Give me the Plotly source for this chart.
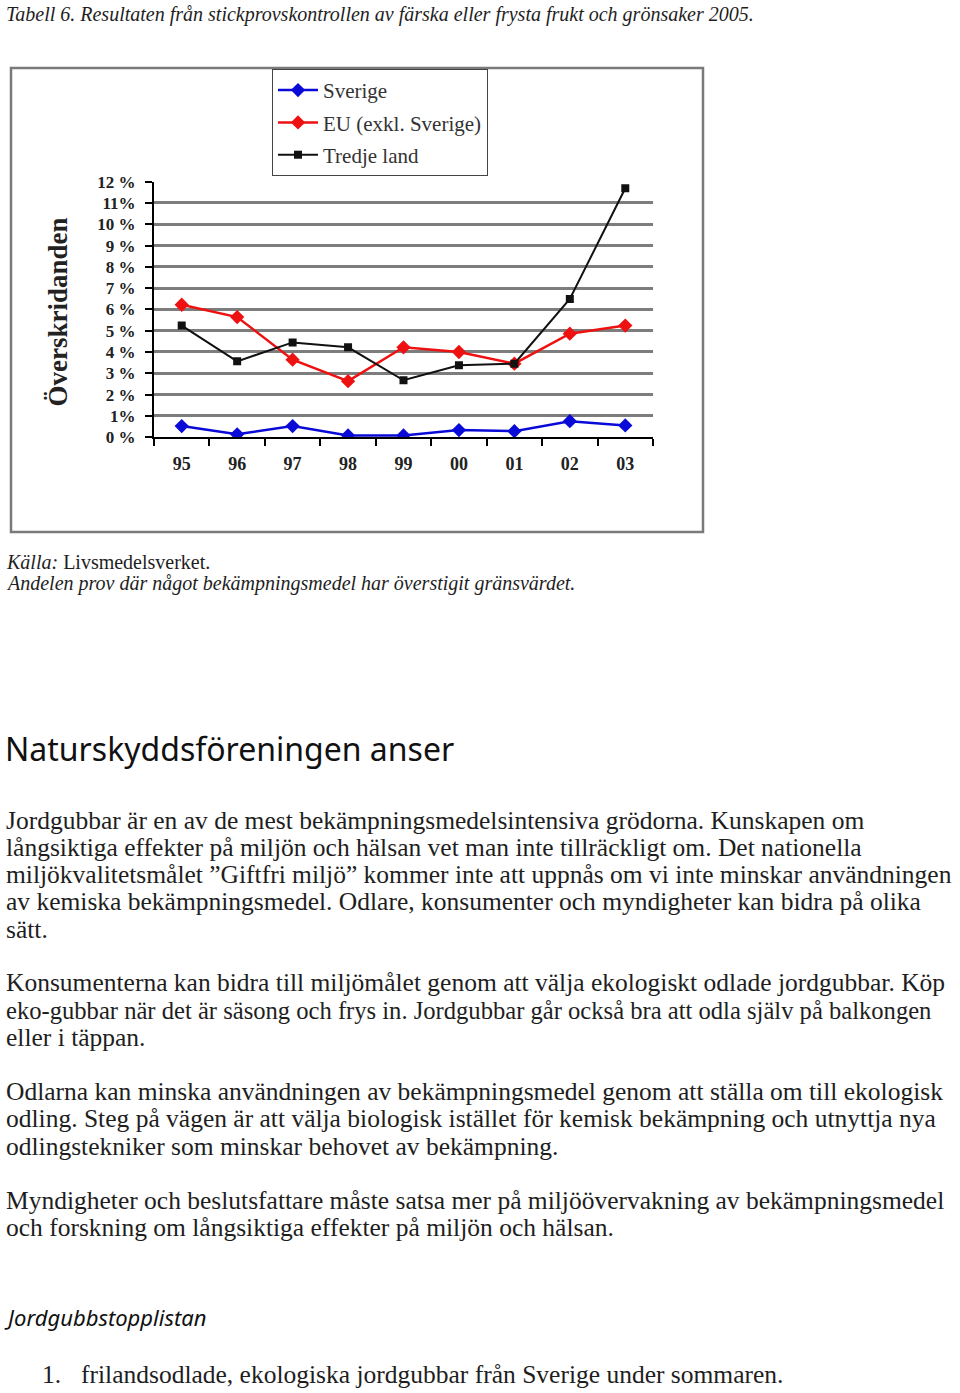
import plotly.graph_objects as go

W, H = 960, 1393

years = ["95", "96", "97", "98", "99", "00", "01", "02", "03"]
sverige = [0.52, 0.13, 0.52, 0.08, 0.08, 0.33, 0.28, 0.75, 0.55]
eu = [6.22, 5.64, 3.64, 2.63, 4.22, 4.00, 3.45, 4.86, 5.24]
tredje = [5.24, 3.56, 4.45, 4.22, 2.67, 3.38, 3.45, 6.49, 11.69]
series_names = ["Sverige", "EU (exkl. Sverige)", "Tredje land"]

ytick_vals = list(range(0, 13))
ytick_text = ["0 %", "1%", "2 %", "3 %", "4 %", "5 %", "6 %", "7 %", "8 %", "9 %", "10 %", "11%", "12 %"]

title_text = "Tabell 6. Resultaten från stickprovskontrollen av färska eller frysta frukt och grönsaker 2005."
source_text = "<i>Källa:</i> Livsmedelsverket."
note_text = "<i>Andelen prov där något bekämpningsmedel har överstigit gränsvärdet.</i>"
heading_text = "Naturskyddsföreningen anser"
paragraphs = [
    ["Jordgubbar är en av de mest bekämpningsmedelsintensiva grödorna. Kunskapen om",
     "långsiktiga effekter på miljön och hälsan vet man inte tillräckligt om. Det nationella",
     "miljökvalitetsmålet ”Giftfri miljö” kommer inte att uppnås om vi inte minskar användningen",
     "av kemiska bekämpningsmedel. Odlare, konsumenter och myndigheter kan bidra på olika",
     "sätt."],
    ["Konsumenterna kan bidra till miljömålet genom att välja ekologiskt odlade jordgubbar. Köp",
     "eko-gubbar när det är säsong och frys in. Jordgubbar går också bra att odla själv på balkongen",
     "eller i täppan."],
    ["Odlarna kan minska användningen av bekämpningsmedel genom att ställa om till ekologisk",
     "odling. Steg på vägen är att välja biologisk istället för kemisk bekämpning och utnyttja nya",
     "odlingstekniker som minskar behovet av bekämpning."],
    ["Myndigheter och beslutsfattare måste satsa mer på miljöövervakning av bekämpningsmedel",
     "och forskning om långsiktiga effekter på miljön och hälsan."],
]
paragraph_tops = [821, 984, 1093, 1202]
line_step = 27.3
list_title = "Jordgubbstopplistan"
list_items = ["frilandsodlade, ekologiska jordgubbar från Sverige under sommaren."]


def px(x):
    return x / W


def py(y):
    # target screen y -> paper fraction (compensates the observed page offset/scale)
    yf = (y - 7.9) / 0.9886
    return 1 - yf / H


SERIF = "Liberation Serif"
SANS = "Noto Sans"
TXT = "#1e1e1e"

fig = go.Figure()
fig.add_trace(go.Scatter(x=years, y=sverige, name=series_names[0], mode="lines+markers",
                         line=dict(color="#0a0ad8", width=2.5),
                         marker=dict(symbol="diamond", size=11, color="#0a0ad8"),
                         legendgroup="a"))
fig.add_trace(go.Scatter(x=years, y=eu, name=series_names[1], mode="lines+markers",
                         line=dict(color="#ee1111", width=2.5),
                         marker=dict(symbol="diamond", size=11, color="#ee1111"),
                         legendgroup="b"))
fig.add_trace(go.Scatter(x=years, y=tredje, name=series_names[2], mode="lines+markers",
                         line=dict(color="#111111", width=2),
                         marker=dict(symbol="square", size=8, color="#111111"),
                         legendgroup="c"))

fig.update_layout(
    width=W, height=H,
    margin=dict(l=0, r=0, t=0, b=0),
    paper_bgcolor="white", plot_bgcolor="white",
    showlegend=True,
    legend=dict(x=px(272), y=py(68), xanchor="left", yanchor="top",
                bgcolor="white", bordercolor="#444", borderwidth=1,
                font=dict(family=SERIF, size=21, color="#333"),
                tracegroupgap=2, itemwidth=40),
    xaxis=dict(domain=[px(154), px(653)], type="category", range=[-0.5, 8.5],
               showline=True, linecolor="black", linewidth=2,
               ticks="outside", tickson="boundaries", ticklen=7, tickcolor="black", tickwidth=1.5,
               showgrid=False, zeroline=False,
               tickfont=dict(family=SERIF, size=18, color="#222", weight="bold"),
               ticklabelstandoff=9),
    yaxis=dict(domain=[py(437), py(181)], range=[0, 12],
               tickvals=ytick_vals, ticktext=ytick_text,
               showline=True, linecolor="black", linewidth=2,
               ticks="outside", ticklen=7, tickcolor="black", tickwidth=1.5,
               showgrid=True, gridcolor="#7d7d7d", gridwidth=2.5, zeroline=False,
               tickfont=dict(family=SERIF, size=17, color="#222", weight="bold"),
               ticklabelstandoff=6),
)

# chart frame
fig.add_shape(type="rect", xref="paper", yref="paper",
              x0=px(11), x1=px(703), y0=py(532), y1=py(67),
              line=dict(color="#7a7a7a", width=2.5), layer="below")

ann = []
ann.append(dict(text="Överskridanden", x=px(41), y=py(312), textangle=-90,
                font=dict(family=SERIF, size=27, color="#222", weight="bold")))
ann.append(dict(text="<i>" + title_text + "</i>", x=px(4), y=py(13), xanchor="left",
                font=dict(family=SERIF, size=20, color=TXT)))
ann.append(dict(text=source_text, x=px(4), y=py(562), xanchor="left",
                font=dict(family=SERIF, size=20, color=TXT)))
ann.append(dict(text=note_text, x=px(4), y=py(584), xanchor="left",
                font=dict(family=SERIF, size=20, color=TXT)))
ann.append(dict(text=heading_text, x=px(3), y=py(749), xanchor="left",
                font=dict(family=SANS, size=32, color="#111")))
for top, lines in zip(paragraph_tops, paragraphs):
    for i, line in enumerate(lines):
        size = 24.6 if len(line) > 92 else 25.5
        ann.append(dict(text=line, x=px(4), y=py(top + i * line_step), xanchor="left",
                        font=dict(family=SERIF, size=size, color=TXT)))
ann.append(dict(text="<i>" + list_title + "</i>", x=px(2), y=py(1319), xanchor="left",
                font=dict(family=SANS, size=22, color="#111")))
for i, item in enumerate(list_items):
    ann.append(dict(text=f"{i + 1}.", x=px(40), y=py(1377), xanchor="left",
                    font=dict(family=SERIF, size=25.5, color=TXT)))
    ann.append(dict(text=item, x=px(79), y=py(1377), xanchor="left",
                    font=dict(family=SERIF, size=25.5, color=TXT)))

for a in ann:
    a.setdefault("xref", "paper")
    a.setdefault("yref", "paper")
    a.setdefault("showarrow", False)
    a.setdefault("yanchor", "middle")
    fig.add_annotation(**a)

fig.write_html("out.html")
